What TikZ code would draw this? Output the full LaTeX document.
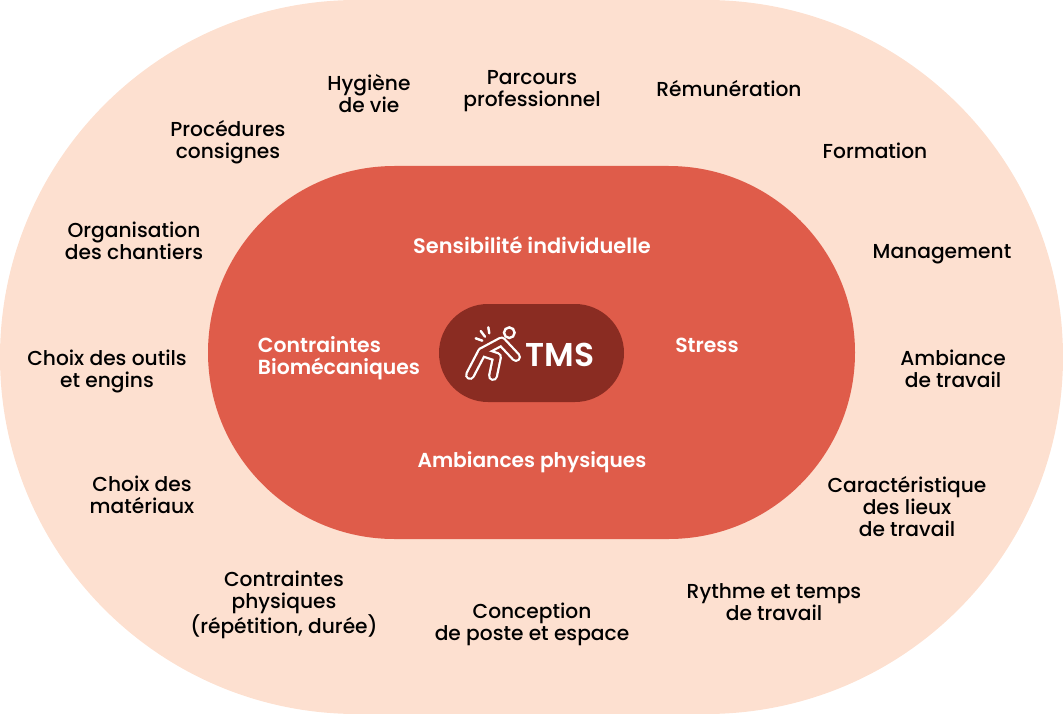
\documentclass[tikz,border=0pt]{standalone}
\usepackage{fontspec}
\setmainfont{Poppins}[UprightFont=* Medium,BoldFont=* SemiBold]
\definecolor{outerc}{HTML}{FDE0D0}
\definecolor{innerc}{HTML}{DF5C4A}
\definecolor{pillc}{HTML}{8A2C22}
\tikzset{lab/.style={align=center,text=black,font=\fontsize{20.2}{22}\selectfont,inner sep=0pt},
inlab/.style={align=center,text=white,font=\bfseries\fontsize{20.4}{22}\selectfont,inner sep=0pt},
outl/.style={white,line width=10pt,line cap=round,line join=round},
inl/.style={pillc,line width=5.4pt,line cap=round,line join=round}}
\begin{document}
\begin{tikzpicture}[x=1pt,y=-1pt]
\useasboundingbox (0,0) rectangle (1063,714);
\fill[outerc,rounded corners=357pt] (0,0) rectangle (1063,714);
\fill[innerc,rounded corners=186.5pt] (208,166) rectangle (855,539);
\fill[pillc,rounded corners=49pt] (439,304) rectangle (624,402);
\node[lab] (a1) at (369,94) {Hygiène\\de vie};
\node[lab] (a2) at (532,91) {Parcours\\professionnel};
\node[lab] (a3) at (729,89) {Rémunération};
\node[lab] (a4) at (875,151) {Formation};
\node[lab] (a5) at (942,254) {Management};
\node[lab] (a6) at (953,368.5) {Ambiance\\de travail};
\node[lab] (a7) at (907,507) {Caractéristique\\des lieux\\de travail};
\node[lab] (a8) at (774,602) {Rythme et temps\\de travail};
\node[lab] (a9) at (532,624) {Conception\\de poste et espace};
\node[lab] (a10) at (284,605) {Contraintes\\physiques\\(répétition, durée)};
\node[lab] (a11) at (142,495) {Choix des\\matériaux};
\node[lab] (a12) at (107,371.5) {Choix des outils\\et engins};
\node[lab] (a13) at (134,240.5) {Organisation\\des chantiers};
\node[lab] (a14) at (228,142) {Procédures\\consignes};
\node[inlab,font=\bfseries\fontsize{20.9}{22}\selectfont] (b1) at (532,245) {Sensibilité individuelle};
\node[inlab,font=\bfseries\fontsize{20.2}{22}\selectfont] (b2) at (532,462) {Ambiances physiques};
\node[inlab] (b3) at (707,345) {Stress};
\node[inlab,align=left] (b4) at (339,358) {Contraintes\\Biomécaniques};
\node[text=white,inner sep=0pt,font=\bfseries\fontsize{33}{33}\selectfont] (t) at (560,355) {TMS};
\foreach \k in {outl,inl}{
\draw[\k] (470,375) -- (482,352) -- (501.5,341.5) -- (516,357);
\draw[\k] (482,352) -- (497,357) -- (493,376);
}
\draw[white,line width=2.4pt] (509.3,332.7) circle (5.3);
\draw[white,line width=2.4pt,line cap=round] (475.7,338.3) -- (482.3,340.7) (480.7,331) -- (485,336.7) (488.3,327.3) -- (489.3,333.3);
\end{tikzpicture}
\end{document}
